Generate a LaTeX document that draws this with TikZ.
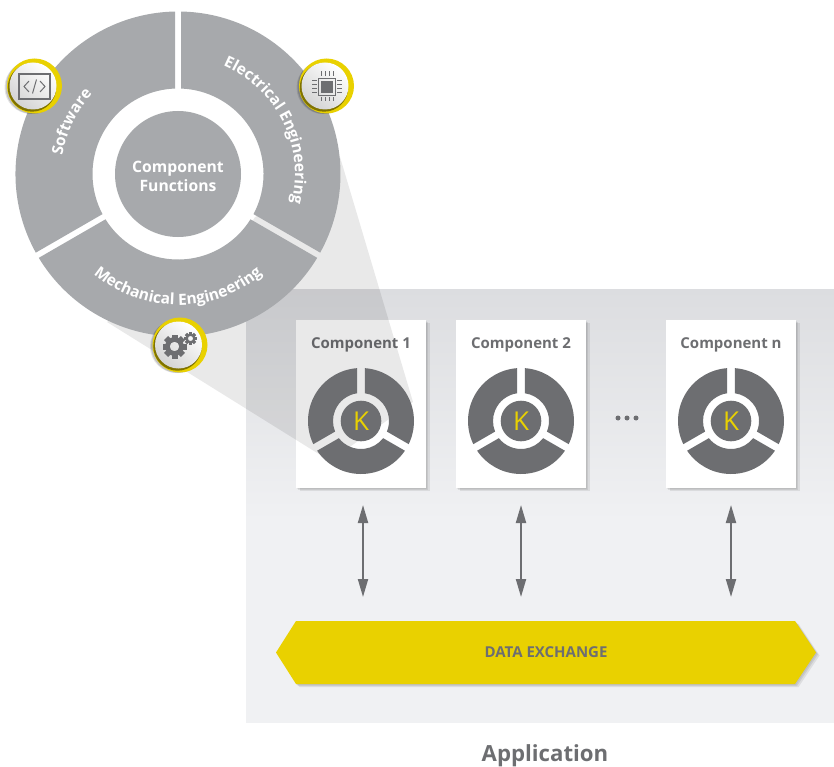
\documentclass[tikz,border=0pt]{standalone}
\usepackage{fontspec}
\setmainfont{Open Sans}
\usetikzlibrary{arrows.meta,calc,decorations.text}
\definecolor{seggray}{HTML}{A7A9AC}
\definecolor{darkgray}{HTML}{6D6E71}
\definecolor{kyellow}{HTML}{E9D100}
\definecolor{paneltop}{HTML}{DCDDE0}
\definecolor{panelbot}{HTML}{F0F1F3}
\tikzset{
  softshadow/.style={
    preaction={fill=black,opacity=.06,transform canvas={shift={(1pt,-1pt)}}},
    preaction={fill=black,opacity=.08,transform canvas={shift={(2pt,-2pt)}}},
    preaction={fill=black,opacity=.08,transform canvas={shift={(3.5pt,-3pt)}}}},
  compbox/.style={fill=white,softshadow,minimum width=130pt,minimum height=168pt,inner sep=0pt},
  complabel/.style={font=\fontsize{15}{17}\selectfont\bfseries,text=darkgray},
  whitelabel/.style={font=\fontsize{15.7}{18.5}\selectfont\bfseries,text=white,align=center},
  exchange/.style={<->,>={Triangle[length=18pt,width=10pt]},line width=2pt,darkgray},
  curvetext/.style={decorate,decoration={text along path,text align=center,
    text={|\fontsize{15.5}{17}\fontseries{b}\selectfont\color{white}|#1}}},
}
% sectors of a ring: centre x, centre y, outer radius, inner radius, half gap, colour
\newcommand{\segring}[6]{
  \begin{scope}[shift={(#1,#2)}]
    \foreach \a in {90,-30,-150}{
      \pgfmathsetmacro{\ao}{\a-asin(#5/#3)}
      \pgfmathsetmacro{\bo}{\a-120+asin(#5/#3)}
      \pgfmathsetmacro{\bi}{\a-120+asin(#5/#4)}
      \pgfmathsetmacro{\ai}{\a-asin(#5/#4)}
      \fill[#6] (\ao:#3) arc[start angle=\ao,end angle=\bo,radius=#3]
        -- (\bi:#4) arc[start angle=\bi,end angle=\ai,radius=#4] -- cycle;
    }
  \end{scope}
}
% round badge behind an icon
\newcommand{\badge}[2]{
  \fill[black,opacity=.10] (#1-3.5,#2-1.5) circle (26.5);
  \fill[black,opacity=.15] (#1-2,#2-1) circle (27);
  \fill[kyellow] (#1,#2) circle (27.5);
  \fill[black!45!kyellow] (#1-2.5,#2-1.5) circle (24.2);
  \shade[left color=white,right color=black!17,shading angle=-40] (#1-1.5,#2) circle (23.5);
}
% gear: centre x, centre y, radius
\newcommand{\gearicon}[3]{
  \foreach \t in {0,45,...,315}
    \draw[darkgray,line width=.5*#3] ($(#1,#2)+(\t:.62*#3)$) -- ($(#1,#2)+(\t:#3)$);
  \fill[darkgray,even odd rule] (#1,#2) circle (.78*#3) (#1,#2) circle (.4*#3);
}
\begin{document}
\begin{tikzpicture}[x=1pt,y=1pt]
\useasboundingbox (0,0) rectangle (834,-767);
% application panel
\shade[top color=paneltop,bottom color=panelbot] (246,-289) rectangle (834,-521);
\fill[panelbot] (246,-521) rectangle (834,-723);
\foreach \n/\x/\lab in {1/361/Component 1,2/521/Component 2,3/731/Component n}{
  \node[compbox] (box\n) at (\x,-404) {};
  \node[complabel] (title\n) at (\x,-344.5) {\lab};
}
% zoom cone
\fill[black,opacity=.085] (340,-157) -- (413,-402) -- (330,-461) -- (107,-322) -- cycle;
\foreach \n/\x in {1/361,2/521,3/731}{
  \segring{\x}{-421}{53}{28}{3.8}{darkgray}
  \fill[darkgray] (\x,-421) circle (20.3);
  \node[font=\fontsize{26}{28}\selectfont,text=kyellow] (k\n) at (\x,-421) {K};
}
\foreach \x in {618,627,636}
  \fill[darkgray] (\x,-418) circle (2.5);
% big ring
\fill[white] (178,-174) circle (88);
\segring{178}{-174}{162.5}{85.5}{3}{seggray}
\fill[seggray] (178,-174) circle (63);
\node[whitelabel] (functions) at (178,-176.5) {Component\\Functions};
\path[curvetext=Electrical Engineering] (178,-174) ++(86.5:117) arc[start angle=86.5,end angle=-33.5,radius=117];
\path[curvetext=Software] (178,-174) ++(194:117) arc[start angle=194,end angle=114,radius=117];
\path[curvetext=Mechanical Engineering] (178,-174) ++(210:131) arc[start angle=210,end angle=330,radius=131];
% software icon
\badge{34.5}{-86}
\draw[darkgray,line width=1.2pt] (19,-74) rectangle (50,-99);
\draw[darkgray,line width=1pt] (29,-81) -- (24,-86.5) -- (29,-92) (40,-81) -- (45,-86.5) -- (40,-92) (36.5,-79.5) -- (32.5,-93.5);
% electrical icon
\badge{326.5}{-86}
\fill[darkgray] (321,-81) rectangle (333,-93);
\draw[darkgray,line width=1pt] (318.5,-78.5) rectangle (335.5,-95.5);
\foreach \d in {-6,-2,2,6}{
  \draw[darkgray,line width=1pt] (327+\d,-71.5) -- (327+\d,-76);
  \draw[darkgray,line width=1pt] (327+\d,-97.5) -- (327+\d,-101.5);
  \draw[darkgray,line width=1pt] (312,-87+\d) -- (317,-87+\d);
  \draw[darkgray,line width=1pt] (337,-87+\d) -- (342,-87+\d);
}
% mechanical icon
\badge{180}{-345}
\gearicon{174.5}{-346.5}{12}
\gearicon{190.5}{-338.5}{6.5}
% data exchange bar
\fill[kyellow,softshadow] (276,-652.5) -- (296,-621) -- (795,-621) -- (816,-652.5) -- (795,-684) -- (296,-684) -- cycle;
\node[complabel] (bar) at (546,-652.5) {DATA EXCHANGE};
\foreach \n/\x in {1/363,2/521,3/731}{
  \coordinate (top\n) at (\x,-505);
  \coordinate (bot\n) at (\x,-597);
  \draw[exchange] (top\n) -- (bot\n);
}
\node[font=\fontsize{22.2}{25}\selectfont\bfseries,text=darkgray] (app) at (545,-755.5) {Application};
\end{tikzpicture}
\end{document}
